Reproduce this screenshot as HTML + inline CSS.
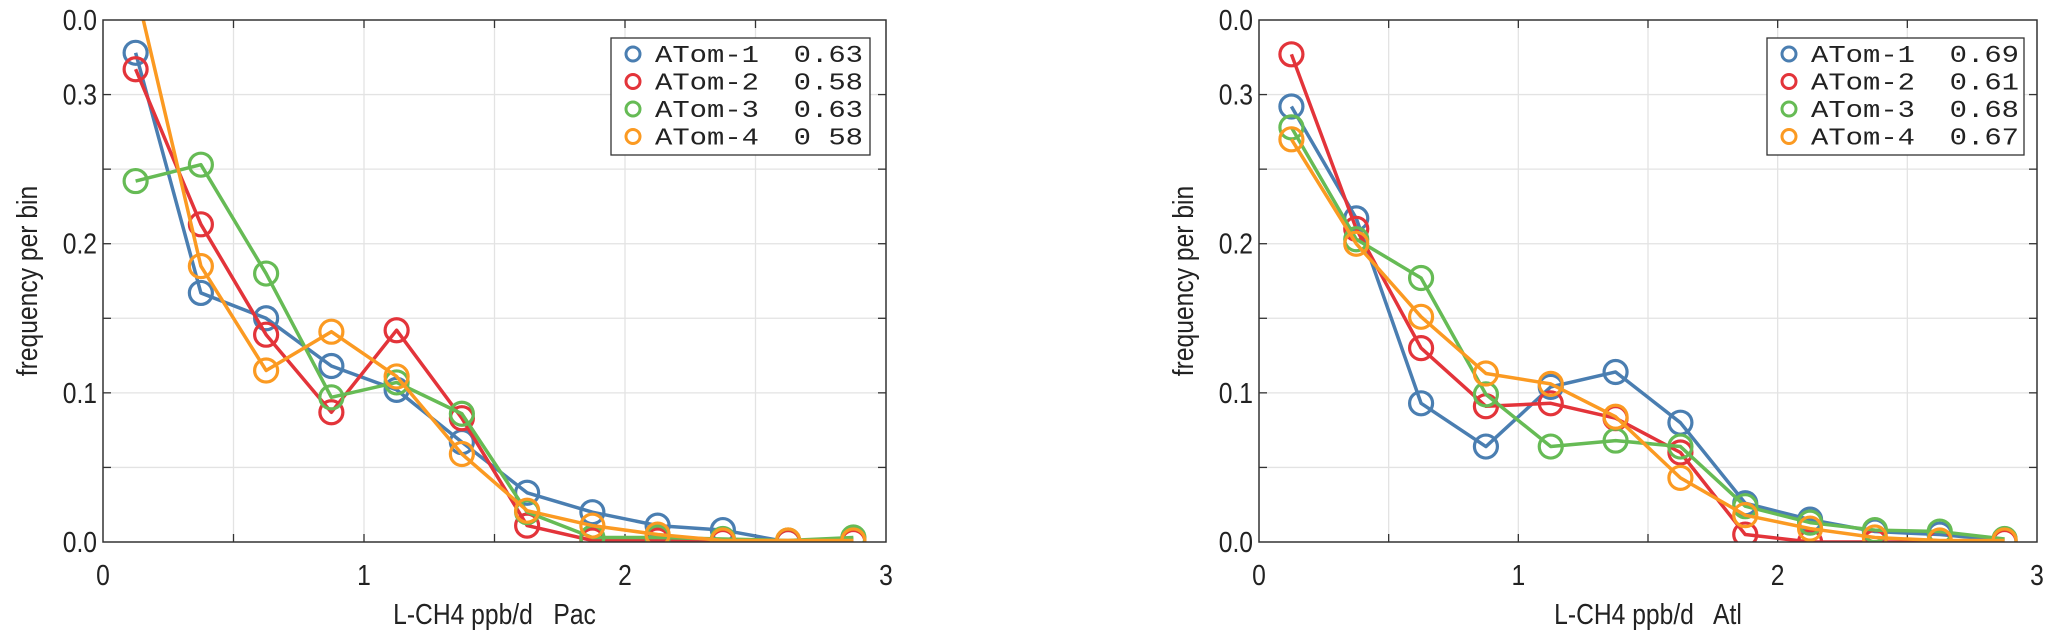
<!DOCTYPE html>
<html><head><meta charset="utf-8"><style>
html,body{margin:0;padding:0;background:#fff;}
svg{display:block;}
text{white-space:pre;}
</style></head><body>
<svg id="c" width="2067" height="639" xmlns="http://www.w3.org/2000/svg"></svg>
<script>
const xCenters=[0.125,0.375,0.625,0.875,1.125,1.375,1.625,1.875,2.125,2.375,2.625,2.875];
const seriesNames=["ATom-1","ATom-2","ATom-3","ATom-4"];
const colors=["#4a7eb1","#e3343a","#66bb55","#fb9a22"];
const pacCorr=["0.63","0.58","0.63","0 58"];
const atlCorr=["0.69","0.61","0.68","0.67"];
const pac1=[0.328,0.167,0.150,0.118,0.102,0.067,0.033,0.020,0.011,0.008,0.000,0.002];
const pac2=[0.317,0.213,0.139,0.087,0.142,0.083,0.011,0.001,0.001,0.000,0.000,0.000];
const pac3=[0.242,0.253,0.180,0.097,0.107,0.086,0.020,0.003,0.003,0.002,0.001,0.003];
const pac4=[0.372,0.185,0.115,0.141,0.111,0.059,0.021,0.011,0.005,0.001,0.001,0.001];
const atl1=[0.292,0.217,0.093,0.064,0.104,0.114,0.080,0.026,0.015,0.007,0.005,0.001];
const atl2=[0.327,0.210,0.130,0.091,0.093,0.083,0.060,0.005,0.000,0.000,0.000,0.000];
const atl3=[0.278,0.203,0.177,0.099,0.064,0.068,0.064,0.024,0.013,0.008,0.007,0.002];
const atl4=[0.270,0.200,0.151,0.113,0.106,0.084,0.043,0.018,0.009,0.003,0.001,0.001];
const xTicks=[0,1,2,3];
const yTicks=[0,0.1,0.2,0.3,0.35];
const yTickLabels=["0.0","0.1","0.2","0.3","0.0"];
const xMax=3, yMax=0.35;
const NS="http://www.w3.org/2000/svg";
const svg=document.getElementById('c');
function mk(t,a,p){const e=document.createElementNS(NS,t);for(const k in a)e.setAttribute(k,a[k]);(p||svg).appendChild(e);return e;}

function panel(id,x0,x1,yT,yB,data,corr,xlab,lx,lw){
  const g=mk('g',{});
  
  
  const X=v=>x0+v/xMax*(x1-x0), Y=v=>yB-v/yMax*(yB-yT);
  for(let v=0.5;v<xMax;v+=0.5){const l=mk('line',{x1:X(v),x2:X(v),y1:yT,y2:yB,stroke:'#e3e3e3','stroke-width':1.3},g);
    }
  for(let v=0.05;v<yMax-0.001;v+=0.05){const l=mk('line',{x1:x0,x2:x1,y1:Y(v),y2:Y(v),stroke:'#e3e3e3','stroke-width':1.3},g);
    }
  for(let v=0.5;v<xMax;v+=0.5){mk('line',{x1:X(v),x2:X(v),y1:yB,y2:yB-8,stroke:'#333','stroke-width':1.3},g);mk('line',{x1:X(v),x2:X(v),y1:yT,y2:yT+8,stroke:'#333','stroke-width':1.3},g);}
  for(let v=0.05;v<yMax-0.001;v+=0.05){mk('line',{x1:x0,x2:x0+8,y1:Y(v),y2:Y(v),stroke:'#333','stroke-width':1.3},g);mk('line',{x1:x1,x2:x1-8,y1:Y(v),y2:Y(v),stroke:'#333','stroke-width':1.3},g);}
  xTicks.forEach(v=>{const t=mk('text',{x:X(v),y:yB+43,'text-anchor':'middle','font-size':29,fill:'#222','font-family':'Liberation Sans, sans-serif',transform:`translate(${X(v)},0) scale(0.85,1) translate(${-X(v)},0)`},g);t.textContent=v;
    });
  yTicks.forEach((v,i)=>{const t=mk('text',{x:x0-6,y:Y(v)+10,'text-anchor':'end','font-size':29,fill:'#222','font-family':'Liberation Sans, sans-serif',transform:`translate(${x0-6},0) scale(0.85,1) translate(${-(x0-6)},0)`},g);t.textContent=yTickLabels[i];
    });
  const xc=(x0+x1)/2;
  const xt=mk('text',{x:xc,y:yB+82,'text-anchor':'middle','font-size':29,fill:'#222','font-family':'Liberation Sans, sans-serif',transform:`translate(${xc},0) scale(0.85,1) translate(${-xc},0)`},g);xt.textContent=xlab;
  
  const yt=mk('text',{x:0,y:0,'text-anchor':'middle','font-size':29,fill:'#222','font-family':'Liberation Sans, sans-serif',transform:`translate(${x0-66},${(yT+yB)/2}) rotate(-90) scale(0.85,1)`},g);yt.textContent='frequency per bin';
  
  const cp=mk('clipPath',{id:id+'clip'},g);mk('rect',{x:x0,y:yT,width:x1-x0,height:yB-yT},cp);
  const sg=mk('g',{'clip-path':`url(#${id}clip)`},g);
  data.forEach((arr,s)=>{
    const pts=arr.map((v,i)=>X(xCenters[i])+','+Y(v)).join(' ');
    const pl=mk('polyline',{points:pts,fill:'none',stroke:colors[s],'stroke-width':3.5,'stroke-linejoin':'round'},sg);
    
    arr.forEach((v,i)=>{const c=mk('circle',{cx:X(xCenters[i]),cy:Y(v),r:11.5,fill:'none',stroke:colors[s],'stroke-width':3.2},sg);
      });
  });
  const fr=mk('rect',{x:x0,y:yT,width:x1-x0,height:yB-yT,fill:'none',stroke:'#333','stroke-width':1.5},g);
  
  const lg=mk('g',{},g);
  
  mk('rect',{x:lx,y:38,width:lw,height:117,fill:'#fff',stroke:'#333','stroke-width':1.3},lg);
  seriesNames.forEach((n,s)=>{const yy=54+s*27.5;
    const e=mk('g',{},lg);
    mk('circle',{cx:lx+22,cy:yy,r:7,fill:'none',stroke:colors[s],'stroke-width':3},e);
    const t=mk('text',{x:lx+44,y:yy+8,'font-size':24,fill:'#222','font-family':'Liberation Mono, monospace',textLength:208,lengthAdjust:'spacingAndGlyphs'},e);
    t.textContent=n+'  '+corr[s];});
}
panel('pac',103,886,20,542,[pac1,pac2,pac3,pac4],pacCorr,'L-CH4 ppb/d   Pac',611,259);
panel('atl',1259,2037,20,542,[atl1,atl2,atl3,atl4],atlCorr,'L-CH4 ppb/d   Atl',1767,257);
</script>
</body></html>
